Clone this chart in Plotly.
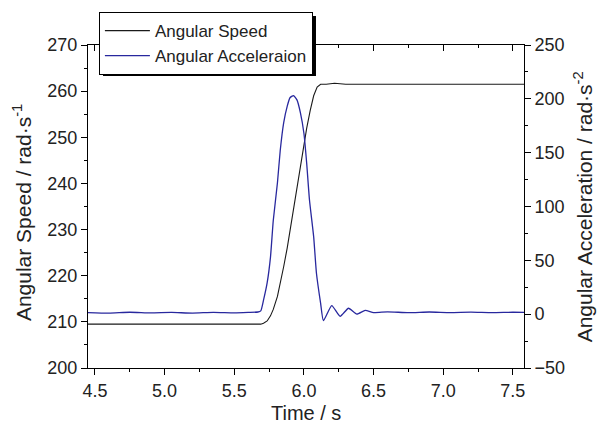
import plotly.graph_objects as go

# ---- data ----
t_speed = [4.45, 4.7, 5.0, 5.3, 5.6, 5.69, 5.71, 5.736, 5.76, 5.78, 5.81, 5.83, 5.855,
           5.88, 5.90, 5.925, 5.95, 5.975, 6.00, 6.02, 6.045, 6.07, 6.095, 6.12, 6.16,
           6.22, 6.3, 6.6, 7.0, 7.3, 7.58]
speed = [209.5, 209.5, 209.6, 209.5, 209.5, 209.5, 209.7, 210.2, 211.3, 212.7, 215.5, 218.2, 222.0,
         226.0, 229.8, 234.5, 239.2, 243.6, 248.2, 252.0, 255.8, 259.0, 260.9, 261.5, 261.5,
         261.7, 261.5, 261.5, 261.6, 261.5, 261.5]

t_acc = [4.45, 4.6, 4.75, 4.9, 5.05, 5.2, 5.35, 5.5, 5.6, 5.67, 5.69, 5.71, 5.736, 5.76, 5.78,
         5.81, 5.83, 5.855, 5.88, 5.90, 5.925, 5.95, 5.975, 6.00, 6.02, 6.04, 6.07, 6.09,
         6.12, 6.14, 6.20, 6.26, 6.32, 6.38, 6.44, 6.5, 6.6, 6.75, 6.9, 7.05, 7.2, 7.35, 7.5, 7.58]
accel = [1.5, 1.0, 1.8, 1.2, 1.6, 1.0, 1.7, 1.2, 1.6, 2.0, 3.0, 13.0, 29.0, 53.0, 87.0,
         122.0, 152.0, 178.0, 193.0, 201.0, 203.0, 199.0, 187.0, 168.0, 140.0, 106.0, 72.0, 38.0,
         10.0, -6.0, 8.0, -2.0, 5.5, 0.0, 3.5, 1.5, 2.2, 1.4, 2.0, 1.5, 1.9, 1.4, 1.8, 1.6]

x_ticks = [4.5, 5.0, 5.5, 6.0, 6.5, 7.0, 7.5]
y_ticks = [200, 210, 220, 230, 240, 250, 260, 270]
y2_ticks = [-50, 0, 50, 100, 150, 200, 250]

FONT = "Liberation Sans, Arial, sans-serif"
BLACK_LINE = "#1a1a1a"
BLUE_LINE = "#28289e"

fig = go.Figure()
fig.add_trace(go.Scatter(x=t_speed, y=speed, mode="lines", name="Angular Speed",
                         line=dict(color=BLACK_LINE, width=1.1)))
fig.add_trace(go.Scatter(x=t_acc, y=accel, mode="lines", name="Angular Acceleraion",
                         line=dict(color=BLUE_LINE, width=1.3, shape="spline", smoothing=0.5),
                         yaxis="y2"))
# empty trace to create the top mirror axis
fig.add_trace(go.Scatter(x=[], y=[], xaxis="x2", yaxis="y", showlegend=False, hoverinfo="skip"))

axis_common = dict(showline=True, linecolor="black", linewidth=1, showgrid=False,
                   zeroline=False, tickcolor="black", ticklen=6, tickwidth=1,
                   tickfont=dict(family=FONT, size=18, color="#222"))

fig.update_layout(
    width=600, height=430,
    margin=dict(l=88, r=76, t=45, b=62),
    paper_bgcolor="white", plot_bgcolor="white",
    font=dict(family=FONT, color="#222"),
    xaxis=dict(range=[4.45, 7.58], tickvals=x_ticks, tickformat=".1f", ticks="outside",
               minor=dict(ticks="outside", ticklen=3, dtick=0.25, tick0=4.5, tickcolor="black"),
               **axis_common),
    xaxis2=dict(range=[4.45, 7.58], overlaying="x", side="top", tickvals=x_ticks,
                ticks="inside", showticklabels=False,
                minor=dict(ticks="inside", ticklen=3, dtick=0.25, tick0=4.5, tickcolor="black"),
                **axis_common),
    yaxis=dict(range=[200, 270], tickvals=y_ticks, ticks="outside",
               minor=dict(ticks="outside", ticklen=3, dtick=5, tick0=200, tickcolor="black"),
               **axis_common),
    yaxis2=dict(range=[-50, 250], tickvals=y2_ticks, overlaying="y", side="right",
                ticks="outside",
                minor=dict(ticks="outside", ticklen=3, dtick=25, tick0=-50, tickcolor="black"),
                **axis_common),
    showlegend=True,
    legend=dict(x=0.025, y=1.102, xanchor="left", yanchor="top",
                bgcolor="white", bordercolor="black", borderwidth=1,
                font=dict(family=FONT, size=17, color="#222"),
                tracegroupgap=0, itemwidth=45),
    shapes=[dict(type="rect", xref="paper", yref="paper",
                 x0=0.0344, x1=0.5229, y0=0.904, y1=1.0898,
                 fillcolor="black", line=dict(width=0), layer="above")],
    annotations=[
        dict(text="Time / s", xref="paper", yref="paper", x=0.5, y=-0.138,
             xanchor="center", yanchor="middle", showarrow=False,
             font=dict(family=FONT, size=20, color="#222")),
        dict(text="Angular Speed / rad·s<sup>-1</sup>", xref="paper", yref="paper",
             x=-0.151, y=0.48, textangle=-90, xanchor="center", yanchor="middle",
             showarrow=False, font=dict(family=FONT, size=21, color="#222")),
        dict(text="Angular Acceleration / rad·s<sup>-2</sup>", xref="paper", yref="paper",
             x=1.135, y=0.5, textangle=-90, xanchor="center", yanchor="middle",
             showarrow=False, font=dict(family=FONT, size=21, color="#222")),
    ],
)

fig.write_html("out.html")
